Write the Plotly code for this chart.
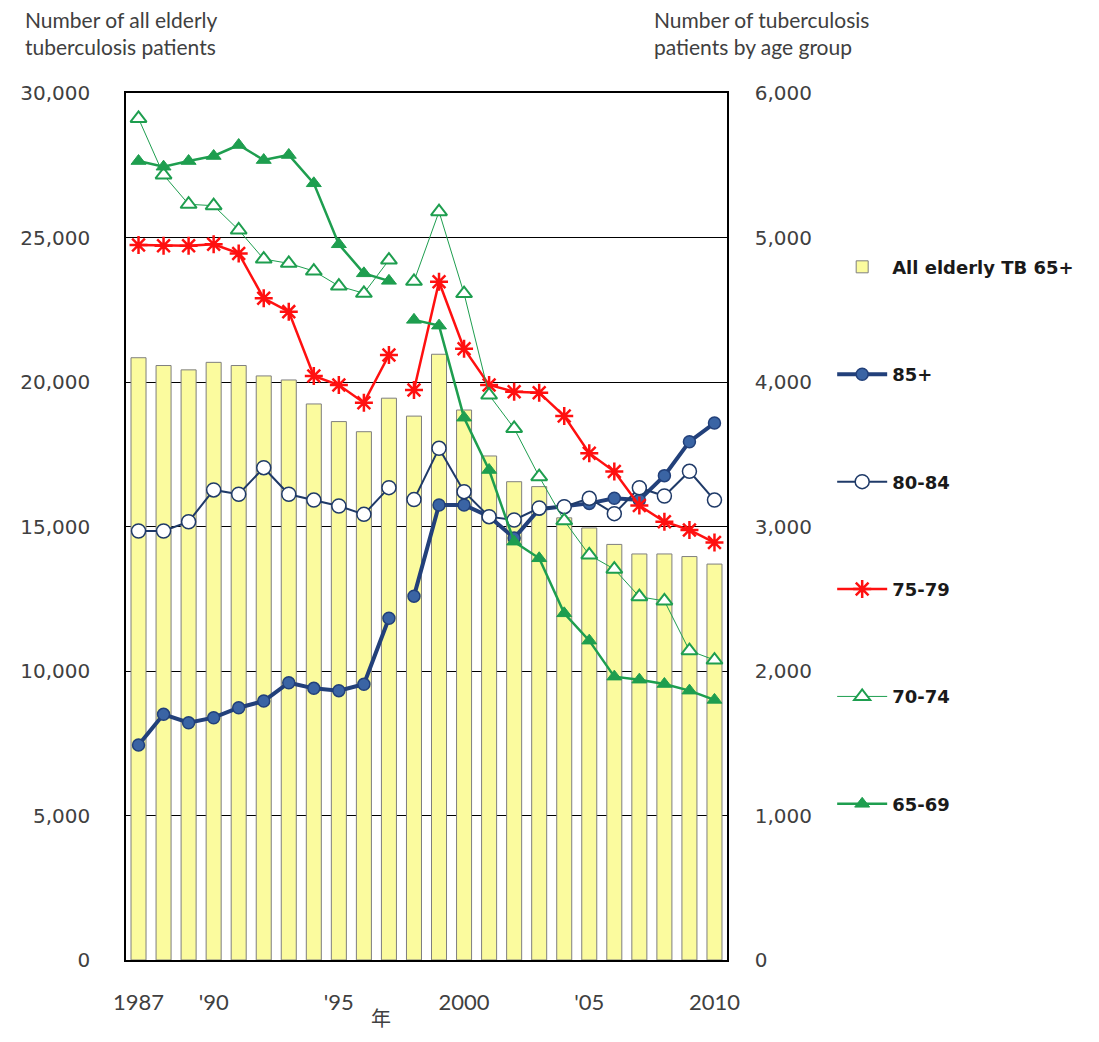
import plotly.graph_objects as go

years = list(range(1987, 2011))

all_elderly = [20840, 20570, 20420, 20680, 20570, 20210, 20070, 19240, 18630, 18280,
               19440, 18820, 20960, 19030, 17440, 16550, 16380, 15300, 14950, 14380,
               14050, 14050, 13960, 13700]

age_85 = [1488, 1700, 1642, 1677, 1746, 1792, 1919, 1880, 1864, 1908,
          2365, 2518, 3149, 3149, 3070, 2920, 3120, 3140, 3160, 3195,
          3183, 3352, 3587, 3716]
age_80_84 = [2969, 2969, 3033, 3253, 3223, 3407, 3223, 3183, 3142, 3084,
             3269, 3186, 3541, 3241, 3068, 3045, 3128, 3137, 3195, 3089,
             3268, 3211, 3382, 3183]
age_75_79 = [4948, 4943, 4943, 4953, 4890, 4579, 4487, 4042, 3979, 3857,
             4187, 3945, 4694, 4230, 3979, 3933, 3926, 3765, 3507, 3380,
             3145, 3033, 2976, 2889]
age_70_74 = [5824, 5433, 5230, 5220, 5052, 4851, 4821, 4768, 4664, 4614,
             4844, 4697, 5179, 4612, 3910, 3679, 3345, 3040, 2803, 2705,
             2514, 2485, 2141, 2076]
age_65_69 = [5529, 5490, 5529, 5564, 5640, 5536, 5571, 5375, 4953, 4752,
             4700, 4430, 4390, 3753, 3391, 2895, 2780, 2399, 2210, 1961,
             1940, 1910, 1864, 1800]

tick_years = [1987, 1990, 1995, 2000, 2005, 2010]
tick_text = ["1987", "'90", "'95", "2000", "'05", "2010"]

break_year = 1998  # series definition changes here: lines are broken

fig = go.Figure()

fig.add_trace(go.Bar(
    x=years, y=all_elderly, name="All elderly TB 65+",
    marker=dict(color="#FBFB9E", line=dict(color="#7F7F7F", width=1)),
    width=0.6, legendgroup="all", yaxis="y",
))

series = [
    ("85+", age_85, dict(color="#22407A", width=4),
     dict(symbol="circle", size=12, color="#3A64A4", line=dict(color="#22407A", width=1.5))),
    ("80-84", age_80_84, dict(color="#1F3A68", width=2),
     dict(symbol="circle", size=14, color="white", line=dict(color="#1F3A68", width=1.5))),
    ("75-79", age_75_79, dict(color="#FF1010", width=2.5),
     dict(symbol="asterisk-open", size=15, color="#FF1010", line=dict(color="#FF1010", width=2.5))),
    ("70-74", age_70_74, dict(color="#1E9E4F", width=1),
     dict(symbol="triangle-up", size=14, color="white", line=dict(color="#1E9E4F", width=2))),
    ("65-69", age_65_69, dict(color="#1E9E4F", width=2.5),
     dict(symbol="triangle-up", size=13, color="#1E9E4F", line=dict(color="#1E9E4F", width=1))),
]

for name, vals, line, marker in series:
    first = [(y, v) for y, v in zip(years, vals) if y < break_year]
    second = [(y, v) for y, v in zip(years, vals) if y >= break_year]
    for i, seg in enumerate((first, second)):
        fig.add_trace(go.Scatter(
            x=[p[0] for p in seg], y=[p[1] for p in seg],
            mode="lines+markers", name=name, legendgroup=name,
            showlegend=(i == 0), line=line, marker=marker, yaxis="y2",
        ))

fig.update_layout(
    width=1083, height=1026,
    margin=dict(l=108, r=364, t=85, b=74),
    paper_bgcolor="white", plot_bgcolor="white",
    showlegend=True,
    legend=dict(
        x=1.175, y=0.8205, xanchor="left", yanchor="top",
        font=dict(family="DejaVu Sans", size=18, color="#1A1A1A", weight="bold"),
        tracegroupgap=81, itemwidth=50, bgcolor="rgba(0,0,0,0)",
    ),
    xaxis=dict(
        range=[1986.5, 2010.5], tickvals=tick_years, ticktext=tick_text,
        showgrid=False, zeroline=False, showline=True, linecolor="black",
        linewidth=1.5, mirror=True, ticks="",
        tickfont=dict(family="Lato", size=22, color="#404040"),
        ticklabelstandoff=22,
    ),
    yaxis=dict(
        range=[0, 30000], dtick=5000, tickformat=",",
        showgrid=True, gridcolor="black", gridwidth=1,
        zeroline=False, showline=True, linecolor="black", linewidth=1.5,
        ticks="", tickfont=dict(family="DejaVu Sans", size=20, color="#404040"),
        ticklabelstandoff=30,
    ),
    yaxis2=dict(
        range=[0, 6000], dtick=1000, tickformat=",", overlaying="y", side="right",
        showgrid=False, zeroline=False, showline=True, linecolor="black", linewidth=1.5,
        ticks="", tickfont=dict(family="DejaVu Sans", size=20, color="#404040"),
        ticklabelstandoff=22,
    ),
    annotations=[
        dict(text="Number of all elderly<br>tuberculosis patients", xref="paper", yref="paper",
             x=-0.172, y=1.102, xanchor="left", yanchor="top", align="left", showarrow=False,
             font=dict(family="Lato", size=21, color="#404040")),
        dict(text="Number of tuberculosis<br>patients by age group", xref="paper", yref="paper",
             x=0.875, y=1.102, xanchor="left", yanchor="top", align="left", showarrow=False,
             font=dict(family="Lato", size=21, color="#404040")),
        dict(text="年", xref="paper", yref="paper", x=0.424, y=-0.047,
             xanchor="center", yanchor="top", showarrow=False,
             font=dict(family="Noto Sans CJK JP", size=20, color="#404040")),
    ],
)

fig.write_html("out.html")
